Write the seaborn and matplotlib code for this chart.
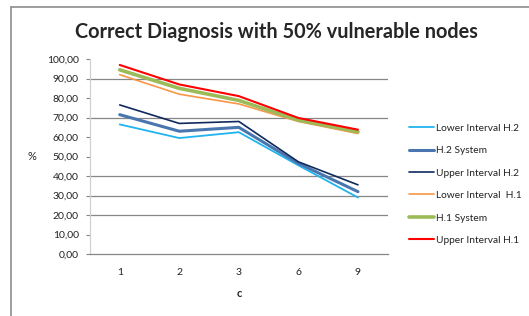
import pandas as pd
import seaborn as sns
import matplotlib.pyplot as plt
from matplotlib.lines import Line2D

# categories on the x axis
c_values = ["1", "2", "3", "6", "9"]

# series (%)
lower_h2 = [66.5, 59.5, 62.5, 45.5, 29.0]
system_h2 = [71.5, 63.0, 65.0, 46.5, 32.0]
upper_h2 = [76.5, 67.0, 68.0, 47.3, 35.5]
lower_h1 = [92.0, 82.0, 77.0, 68.0, 61.8]
system_h1 = [94.5, 85.0, 78.8, 68.7, 62.7]
upper_h1 = [97.0, 87.0, 81.0, 69.8, 63.8]

series_names = ["Lower Interval H.2", "H.2 System", "Upper Interval H.2",
                "Lower Interval  H.1", "H.1 System", "Upper Interval H.1"]
series_values = [lower_h2, system_h2, upper_h2, lower_h1, system_h1, upper_h1]
colors = ["#1fb4ef", "#4a76b0", "#0f2a5c", "#f79646", "#9bbb59", "#ff0000"]
widths = [1.3, 2.2, 1.2, 1.2, 2.6, 1.5]

rows = []
for name, vals in zip(series_names, series_values):
    for c, v in zip(c_values, vals):
        rows.append({"c": c, "value": v, "series": name})
df = pd.DataFrame(rows)

sns.set_style("white")
plt.rcParams["font.family"] = ["Lato", "DejaVu Sans"]

fig = plt.figure(figsize=(5.29, 3.16), dpi=100)
ax = fig.add_axes([0.170, 0.196, 0.563, 0.617])

# visible gridlines only (others got lost in the original image)
for g in [20, 30, 40, 70, 90]:
    ax.axhline(g, color="#868686", lw=0.9, zorder=0)

for name, col, lw in zip(series_names, colors, widths):
    sns.lineplot(data=df[df["series"] == name], x="c", y="value", ax=ax,
                 color=col, linewidth=lw, label=name, sort=False)

ax.set_xlim(-0.5, 4.5)
ax.set_ylim(0, 100)
ax.set_yticks(range(0, 101, 10))
ax.set_yticklabels([f"{v:.2f}".replace(".", ",") for v in range(0, 101, 10)],
                   fontsize=7.5, color="#222222")
ax.tick_params(axis="x", labelsize=7.5, colors="#222222", length=0, pad=10)
ax.tick_params(axis="y", length=3, width=0.8, color="#868686", pad=5, left=True)

for s in ["top", "right"]:
    ax.spines[s].set_visible(False)
ax.spines["left"].set_color("#d0d0d0")
ax.spines["bottom"].set_color("#868686")
ax.spines["left"].set_linewidth(0.9)
ax.spines["bottom"].set_linewidth(0.9)

ax.set_xlabel("c", fontsize=8, fontweight="bold", labelpad=8)
ax.set_ylabel("%", fontsize=8, rotation=0, va="center")
ax.yaxis.set_label_coords(-0.195, 0.50)

fig.text(0.522, 0.898, "Correct Diagnosis with 50% vulnerable nodes",
         ha="center", va="center", fontsize=14.3, fontweight="bold")

leg = ax.legend(loc="upper left", bbox_to_anchor=(0.765, 0.622),
                bbox_transform=fig.transFigure, frameon=False, fontsize=7.3,
                handlelength=2.5, handletextpad=0.15, labelspacing=1.32,
                borderaxespad=0)
for t in leg.get_texts():
    t.set_color("#222222")

# outer chart-area frame (cropped in the original)
fig.add_artist(Line2D([0.021, 0.021], [0.0, 0.978], color="#8c8c8c", lw=1.2,
                      transform=fig.transFigure))
fig.add_artist(Line2D([0.021, 1.0], [0.978, 0.978], color="#8c8c8c", lw=1.2,
                      transform=fig.transFigure))

fig.savefig("out.png", dpi=100)
